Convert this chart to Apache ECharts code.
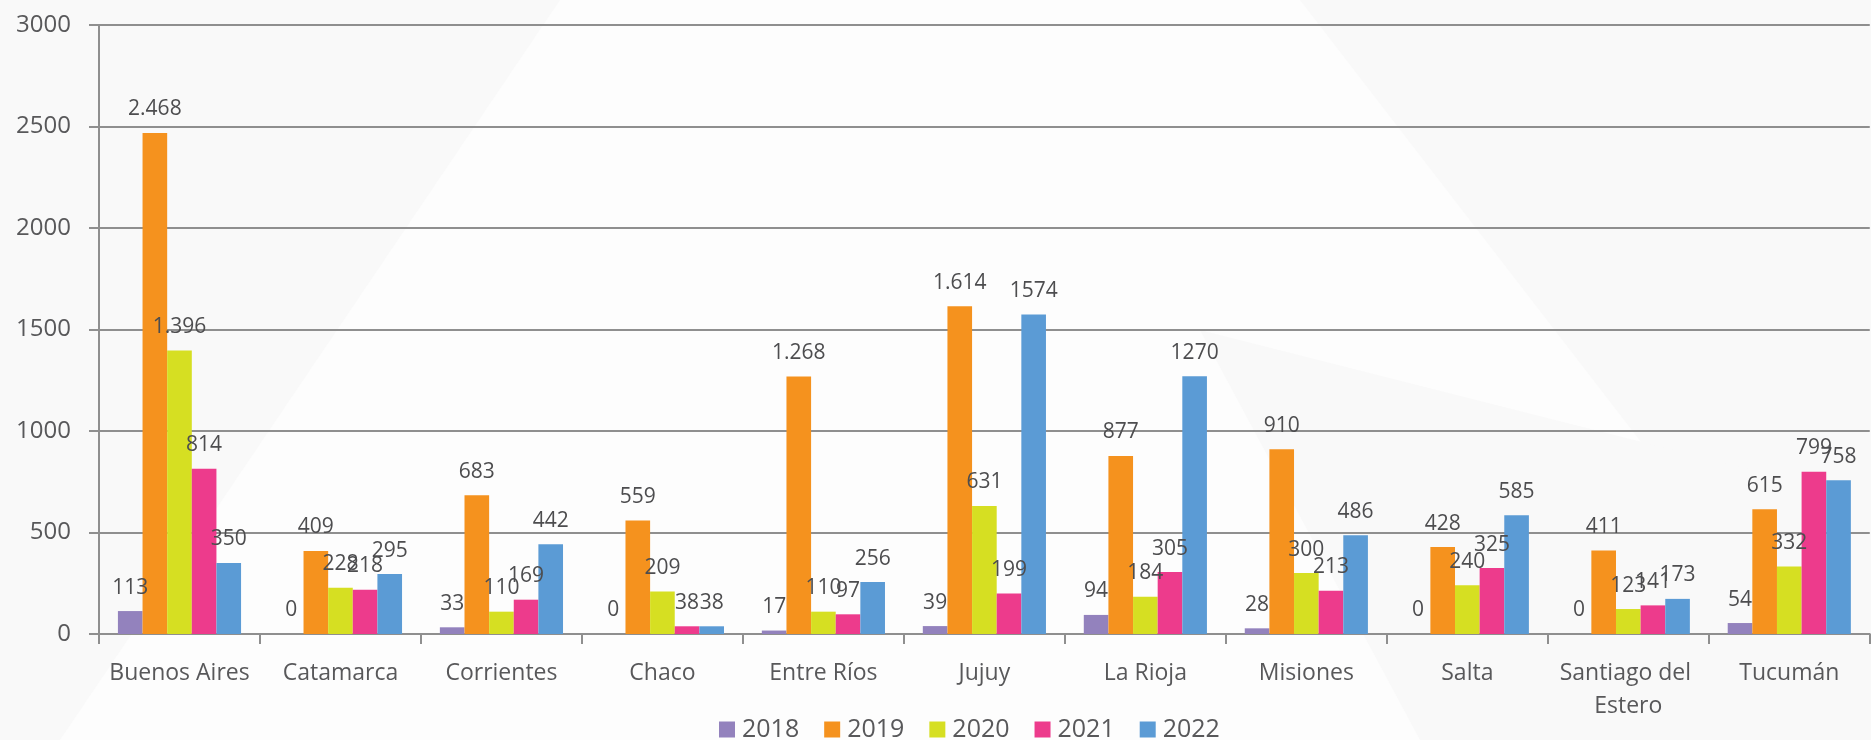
<!DOCTYPE html>
<html>
<head>
<meta charset="utf-8">
<script src="https://cdn.jsdelivr.net/npm/echarts@6/dist/echarts.min.js"></script>
<style>
  html, body { margin: 0; padding: 0; background: #f9f9f9; }
  #chart1 { width: 1871px; height: 740px; }
</style>
</head>
<body>
<div id="chart1"></div>
<script>
var provincias = [
  "Buenos Aires", "Catamarca", "Corrientes", "Chaco", "Entre Ríos", "Jujuy",
  "La Rioja", "Misiones", "Salta", "Santiago del Estero", "Tucumán"
];
var anios = ["2018", "2019", "2020", "2021", "2022"];
var v2018 = [113, 0, 33, 0, 17, 39, 94, 28, 0, 0, 54];
var v2019 = [2468, 409, 683, 559, 1268, 1614, 877, 910, 428, 411, 615];
var v2020 = [1396, 228, 110, 209, 110, 631, 184, 300, 240, 123, 332];
var v2021 = [814, 218, 169, 38, 97, 199, 305, 213, 325, 141, 799];
var v2022 = [350, 295, 442, 38, 256, 1574, 1270, 486, 585, 173, 758];
var yTicks = [0, 500, 1000, 1500, 2000, 2500, 3000];

var colores = ["#9382bd", "#f5921e", "#d6df22", "#ed3b8c", "#5b9bd5"];
var valores = [v2018, v2019, v2020, v2021, v2022];
// 2019 y 2020 llevan punto de miles en el original
var conPunto = { "2019": true, "2020": true };

var chart_chart1 = echarts.init(document.getElementById("chart1"), null, { renderer: "canvas" });

var series = anios.map(function (a, i) {
  return {
    type: "bar",
    name: a,
    data: valores[i],
    barGap: "0%",
    barCategoryGap: "23.5%",
    itemStyle: { color: colores[i] },
    label: {
      show: true,
      position: "top",
      distance: 13,
      fontFamily: "Open Sans",
      fontSize: 21,
      color: "#4d4d4f",
      formatter: function (p) {
        var v = p.value;
        if (conPunto[p.seriesName] && v >= 1000) {
          return Math.floor(v / 1000) + "." + String(v % 1000).padStart(3, "0");
        }
        return String(v);
      }
    }
  };
});

var option_chart1 = {
  animation: false,
  backgroundColor: "#f9f9f9",
  textStyle: { fontFamily: "Open Sans" },
  graphic: [
    { type: "polygon", z: -10, silent: true, shape: { points: [[60, 740], [560, 0], [1000, 0], [1000, 740]] }, style: { fill: "#fdfdfd" } },
    { type: "polygon", z: -10, silent: true, shape: { points: [[1000, 0], [1300, 0], [1871, 740], [1000, 740]] }, style: { fill: "#fdfdfd" } },
    { type: "polygon", z: -9, silent: true, shape: { points: [[1200, 330], [1871, 500], [1871, 740], [1420, 740]] }, style: { fill: "#f9f9f9" } }
  ],
  grid: { left: 99, right: -5, top: 25, bottom: 106, containLabel: false },
  legend: {
    data: anios,
    left: 714,
    top: 712,
    itemWidth: 16,
    itemHeight: 16,
    itemGap: 25,
    icon: "rect",
    textStyle: { fontSize: 25, color: "#58585a", padding: [0, 0, 0, 2] }
  },
  xAxis: {
    type: "category",
    data: provincias,
    axisLine: { show: true, lineStyle: { color: "#8f8f8f", width: 2 } },
    axisTick: { show: true, length: 10, alignWithLabel: false, lineStyle: { color: "#8f8f8f", width: 2 } },
    axisLabel: {
      interval: 0,
      margin: 23,
      fontSize: 23,
      lineHeight: 33,
      color: "#58585a",
      width: 158,
      overflow: "break"
    },
    splitLine: { show: false }
  },
  yAxis: {
    type: "value",
    min: yTicks[0],
    max: yTicks[yTicks.length - 1],
    interval: 500,
    axisLine: { show: true, lineStyle: { color: "#8f8f8f", width: 2 } },
    axisTick: { show: true, length: 10, lineStyle: { color: "#8f8f8f", width: 2 } },
    axisLabel: {
      margin: 28,
      fontSize: 24,
      color: "#58585a",
      formatter: function (v) { return String(v); }
    },
    splitLine: { show: true, lineStyle: { color: "#8f8f8f", width: 2 } }
  },
  series: series
};
chart_chart1.setOption(option_chart1);
</script>
</body>
</html>
